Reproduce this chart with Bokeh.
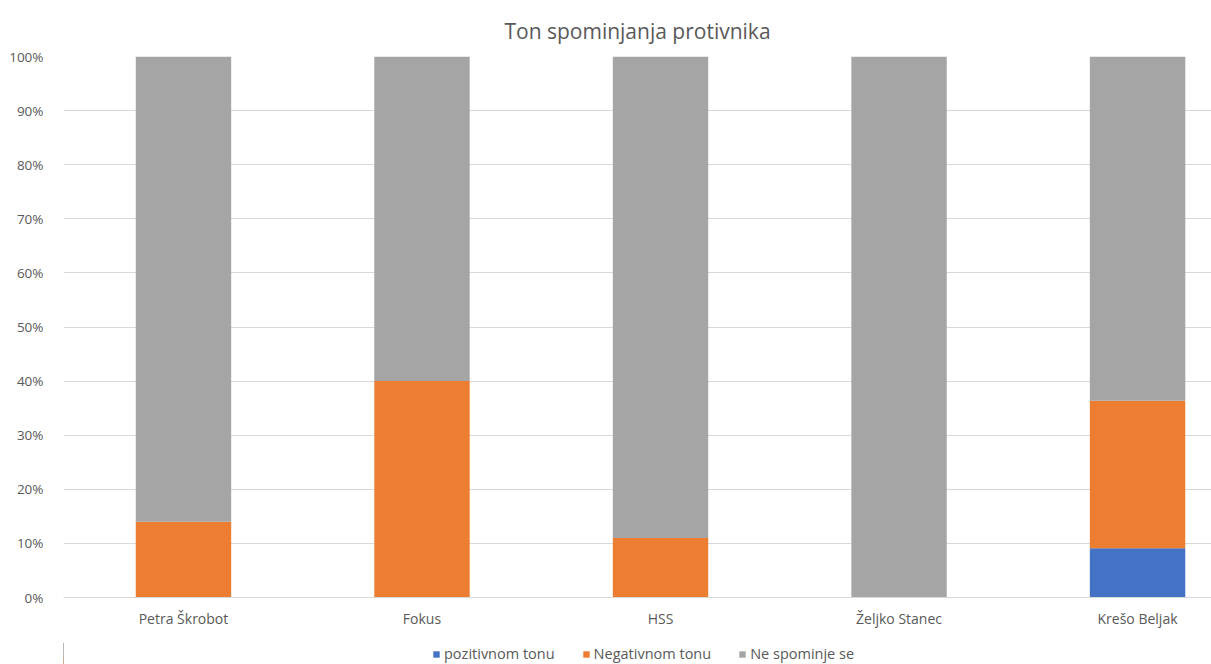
from bokeh.plotting import figure
from bokeh.layouts import column
from bokeh.models import ColumnDataSource, Range1d, FixedTicker, NumeralTickFormatter, Legend, LegendItem
from bokeh.embed import file_html
from bokeh.resources import INLINE

categories = ["Petra Škrobot", "Fokus", "HSS", "Željko Stanec", "Krešo Beljak"]
pozitivnom = [0.0, 0.0, 0.0, 0.0, 0.0909]
negativnom = [0.14, 0.40, 0.11, 0.0, 0.2727]
ne_spominje = [0.86, 0.60, 0.89, 1.00, 0.6364]
series_names = ["pozitivnom tonu", "Negativnom tonu", "Ne spominje se"]
colors = ["#4472C4", "#ED7D31", "#A5A5A5"]
y_ticks = [0.0, 0.1, 0.2, 0.3, 0.4, 0.5, 0.6, 0.7, 0.8, 0.9, 1.0]

FONT = "Open Sans"
TXT = "#595959"

x = list(range(len(categories)))
src = ColumnDataSource(dict(x=x, pos=pozitivnom, neg=negativnom, none=ne_spominje))

p = figure(frame_width=1148, frame_height=541, output_backend="svg", toolbar_location=None,
           x_range=Range1d(-0.503, 4.31), y_range=Range1d(0, 1),
           min_border_left=63, min_border_right=0, min_border_top=56, min_border_bottom=45)

p.vbar_stack(["pos", "neg", "none"], x="x", width=0.40, color=colors,
             line_color=None, source=src)

p.title.text = "Ton spominjanja protivnika"
p.title.align = "center"
p.title.text_font = FONT
p.title.text_font_size = "21px"
p.title.text_font_style = "normal"
p.title.text_color = TXT
p.title.text_line_height = 1.0
p.title.offset = 0
p.title.standoff = 24

p.outline_line_color = None
p.xgrid.grid_line_color = None
p.ygrid.grid_line_color = "#D9D9D9"
p.ygrid.grid_line_width = 1

p.yaxis.ticker = FixedTicker(ticks=y_ticks)
p.yaxis.formatter = NumeralTickFormatter(format="0%")
p.yaxis.axis_line_color = None
p.yaxis.major_tick_line_color = None
p.yaxis.minor_tick_line_color = None
p.yaxis.major_label_text_font = FONT
p.yaxis.major_label_text_font_size = "13.5px"
p.yaxis.major_label_text_color = TXT
p.yaxis.major_label_standoff = 14

p.xaxis.ticker = FixedTicker(ticks=x)
p.xaxis.major_label_overrides = {i: c for i, c in enumerate(categories)}
p.xaxis.axis_line_color = "#D9D9D9"
p.xaxis.major_tick_line_color = None
p.xaxis.minor_tick_line_color = None
p.xaxis.major_label_text_font = FONT
p.xaxis.major_label_text_font_size = "14px"
p.xaxis.major_label_text_color = TXT
p.xaxis.major_label_standoff = 5

# legend strip below the chart (proxy renderers use the same data, drawn off-range)
leg = figure(width=1211, height=22, output_backend="svg", toolbar_location=None,
             x_axis_type=None, y_axis_type=None, x_range=Range1d(100, 101), y_range=Range1d(0, 1),
             min_border=0, outline_line_color=None)
leg.xgrid.visible = False
leg.ygrid.visible = False
proxies = leg.vbar_stack(["pos", "neg", "none"], x="x", width=0.40, color=colors,
                         line_color=None, source=src)
legend = Legend(items=[LegendItem(label=n, renderers=[r]) for n, r in zip(series_names, proxies)],
                orientation="horizontal", location=(369, 1),
                glyph_width=8, glyph_height=8, label_standoff=4, spacing=27,
                label_text_font=FONT, label_text_font_size="14.5px", label_text_color=TXT,
                border_line_color=None, background_fill_alpha=0, padding=0, margin=0)
leg.add_layout(legend, "center")

layout = column(p, leg, spacing=0)
open("out.html", "w").write(file_html(layout, INLINE))
